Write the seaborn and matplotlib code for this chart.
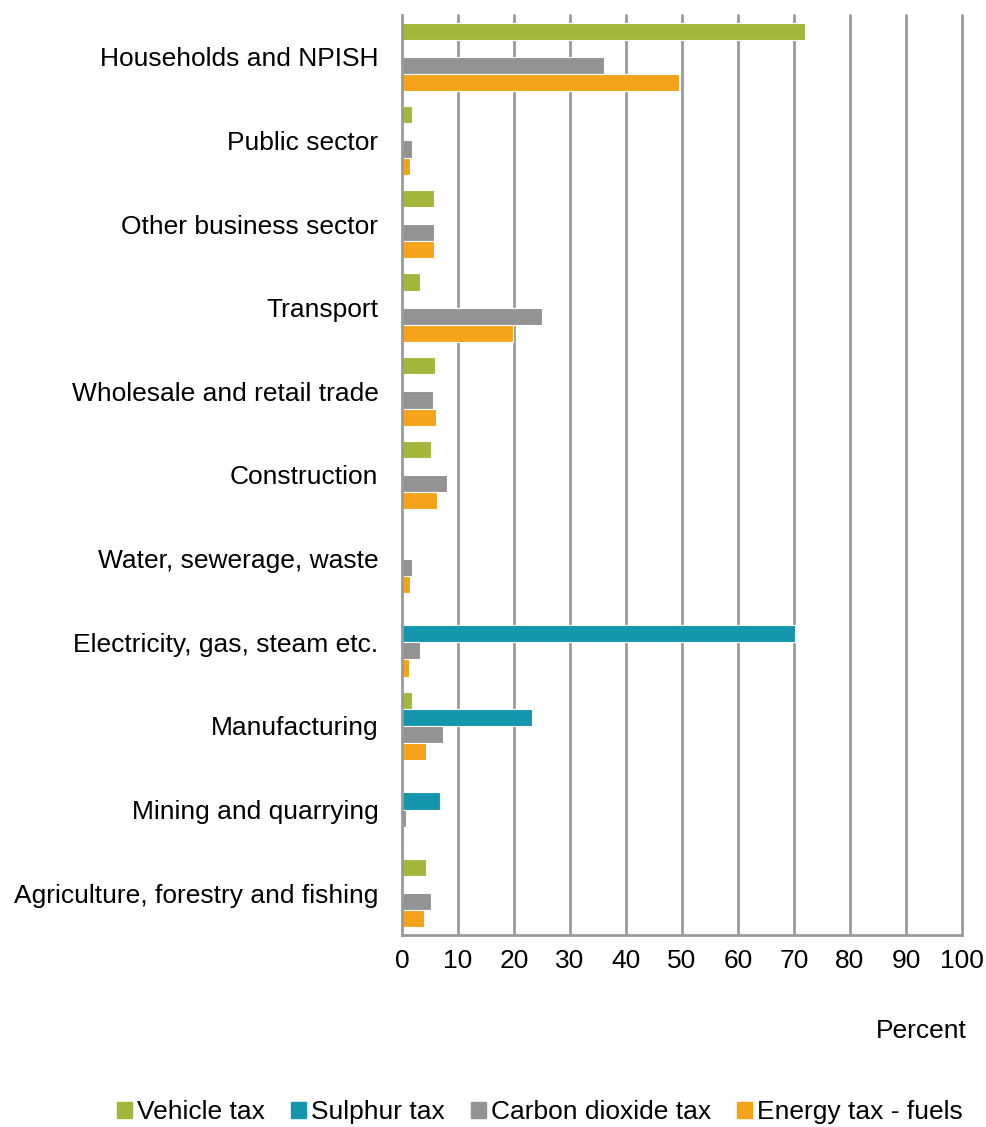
import matplotlib
matplotlib.use("Agg")
import matplotlib.pyplot as plt
import seaborn as sns
import pandas as pd

categories = ["Households and NPISH", "Public sector", "Other business sector", "Transport",
              "Wholesale and retail trade", "Construction", "Water, sewerage, waste",
              "Electricity, gas, steam etc.", "Manufacturing", "Mining and quarrying",
              "Agriculture, forestry and fishing"]
series = ["Vehicle tax", "Sulphur tax", "Carbon dioxide tax", "Energy tax - fuels"]
vehicle_tax = [72.0, 1.7, 5.8, 3.3, 5.9, 5.1, 0.2, 0.0, 1.7, 0.0, 4.2]
sulphur_tax = [0.0, 0.0, 0.0, 0.0, 0.0, 0.0, 0.0, 70.2, 23.3, 6.7, 0.0]
co2_tax = [36.1, 1.7, 5.7, 25.0, 5.5, 8.1, 1.85, 3.2, 7.3, 0.7, 5.1]
energy_tax = [49.5, 1.5, 5.8, 19.9, 6.1, 6.3, 1.4, 1.2, 4.3, 0.35, 4.0]
colors = ["#A3B53A", "#1496AD", "#939393", "#F5A31A"]
x_ticks = list(range(0, 101, 10))

rows = []
for name, vals in zip(series, [vehicle_tax, sulphur_tax, co2_tax, energy_tax]):
    for c, v in zip(categories, vals):
        rows.append({"Sector": c, "Tax": name, "Percent": v})
df = pd.DataFrame(rows)

sns.set_style("white")
plt.rcParams["font.family"] = ["Liberation Sans", "DejaVu Sans"]
plt.rcParams["text.color"] = "black"
plt.rcParams["xtick.color"] = "black"
plt.rcParams["ytick.color"] = "black"

fig = plt.figure(figsize=(9.86, 11.27), dpi=100)
ax = fig.add_axes([402/986, 1 - 935/1127, 560/986, (935-15)/1127])

sns.barplot(data=df, y="Sector", x="Percent", hue="Tax", order=categories,
            hue_order=series, palette=colors, saturation=1, orient="h", width=0.82,
            linewidth=0.8, edgecolor="white", ax=ax, legend=False, errorbar=None)

ax.set_xlim(0, 100)
ax.set_xticks(x_ticks)
ax.set_xticklabels([str(t) for t in x_ticks], fontsize=19)
ax.tick_params(axis="x", length=6, width=1.2, color="#8c8c8c", labelcolor="black",
               direction="out", pad=4)
ax.tick_params(axis="y", length=0, labelsize=19, labelcolor="black", pad=17)
ax.set_ylabel("")
ax.set_xlabel("")
ax.grid(False)
for t in x_ticks[1:]:
    ax.axvline(t, color="#9a9a9a", lw=2, zorder=0, clip_on=False)
for s in ["top", "right"]:
    ax.spines[s].set_visible(False)
ax.spines["left"].set_color("#9a9a9a")
ax.spines["left"].set_linewidth(2)
ax.spines["bottom"].set_color("#9a9a9a")
ax.spines["bottom"].set_linewidth(2)
ax.set_axisbelow(True)

fig.text(921/986, 1 - 1031/1127, "Percent", fontsize=19, ha="center", va="center")

handles = [plt.Rectangle((0, 0), 1, 1, color=c) for c in colors]
fig.legend(handles, series, loc="center", bbox_to_anchor=(540/986, 1 - 1112/1127),
           ncol=4, frameon=False, fontsize=19, handlelength=0.55, handleheight=0.55,
           handletextpad=0.2, columnspacing=1.0)

fig.savefig("out.png", dpi=100)
